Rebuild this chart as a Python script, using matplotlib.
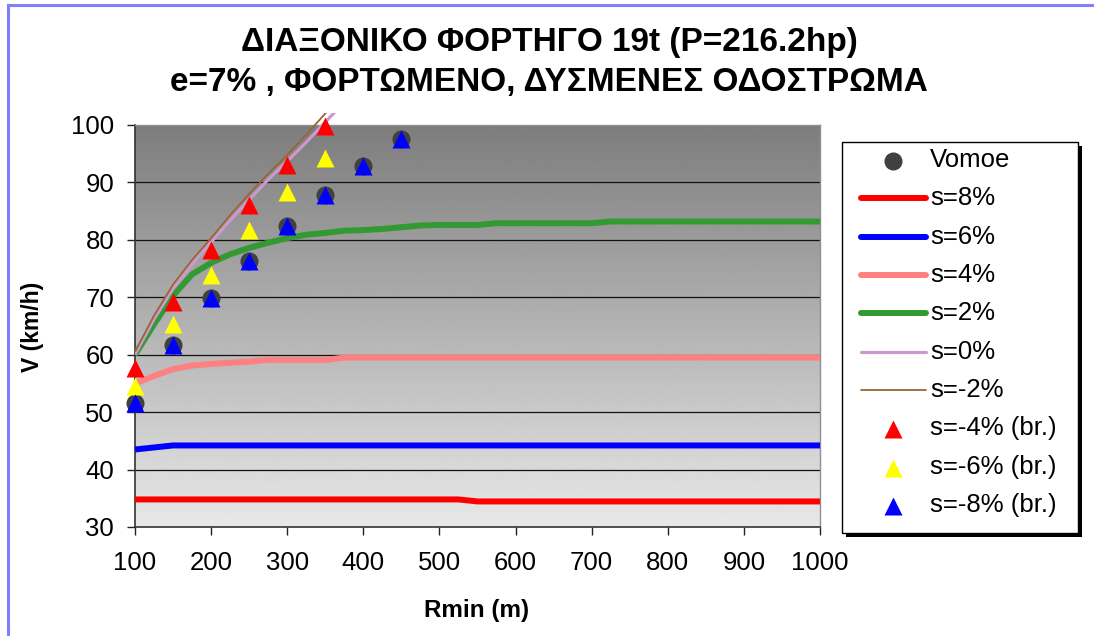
import numpy as np
import matplotlib
matplotlib.use("Agg")
import matplotlib.pyplot as plt
from matplotlib.lines import Line2D
from matplotlib.patches import Rectangle

plt.rcParams['font.family'] = ['Liberation Sans', 'DejaVu Sans']

# ---------------- data ----------------
R_lines = list(range(100, 1001, 25))
s8 = [34.8] * 18 + [34.45] * 19
s6 = [43.5, 43.85] + [44.2] * 35
s4 = [55.0, 56.3, 57.5, 58.1, 58.4, 58.6, 58.8, 59.1, 59.1, 59.1, 59.1] + [59.5] * 26
s2 = ([60.0, 65.3, 70.3, 74.0, 76.0, 77.5, 78.6, 79.5, 80.3, 80.9, 81.2, 81.6, 81.7,
       81.9, 82.2, 82.5, 82.6, 82.6, 82.6] + [82.9] * 6 + [83.2] * 12)

R_steep = [100, 125, 150, 175, 200, 225, 250, 275, 300, 325, 350, 375]
s0 = [60.0, 66.2, 71.5, 75.8, 79.6, 83.4, 87.0, 90.5, 93.7, 97.0, 100.5, 104.0]
sm2 = [60.5, 66.8, 72.2, 76.5, 80.3, 84.3, 88.0, 91.5, 94.8, 98.3, 102.0, 105.5]

R_pts = [100, 150, 200, 250, 300, 350, 400, 450]
vomoe = [51.6, 61.7, 69.9, 76.3, 82.4, 87.8, 92.9, 97.6]
sm8 = [51.6, 61.7, 69.9, 76.3, 82.4, 87.8, 92.9, 97.6]
R_br = [100, 150, 200, 250, 300, 350]
sm4 = [57.7, 69.2, 78.2, 86.1, 93.0, 99.8]
sm6 = [54.6, 65.3, 73.9, 81.7, 88.3, 94.3]

x_ticks = list(range(100, 1001, 100))
y_ticks = list(range(30, 101, 10))

title_1 = "ΔΙΑΞΟΝΙΚΟ ΦΟΡΤΗΓΟ 19t (P=216.2hp)"
title_2 = "e=7% , ΦΟΡΤΩΜΕΝΟ, ΔΥΣΜΕΝΕΣ ΟΔΟΣΤΡΩΜΑ"
xlabel = "Rmin (m)"
ylabel = "V (km/h)"
labels = ["Vomoe", "s=8%", "s=6%", "s=4%", "s=2%", "s=0%", "s=-2%",
          "s=-4% (br.)", "s=-6% (br.)", "s=-8% (br.)"]

# styles
line_styles = [('#ff0000', 4.3), ('#0000ff', 4.3), ('#ff8080', 4.3),
               ('#339933', 4.3), ('#cc99cc', 2.3), ('#996633', 1.3)]
CIRC = dict(marker='o', color='#404040', ms=13, mec='none')
TRI_R = dict(marker='^', color='#ff0000', ms=12.5, mec='none')
TRI_Y = dict(marker='^', color='#ffff00', ms=12.5, mec='none')
TRI_B = dict(marker='^', color='#0000ff', ms=12.5, mec='none')

# ---------------- figure ----------------
W, H = 1094, 636
fig = plt.figure(figsize=(W / 100, H / 100), dpi=100)
fig.patch.set_facecolor('white')

def fx(px):
    return px / W

def fy(py):
    return 1 - py / H

L, Rr, T, B = 135, 820, 125, 527
ax = fig.add_axes([fx(L), fy(B), (Rr - L) / W, (B - T) / H])
ax.set_xlim(100, 1000)
ax.set_ylim(30, 100)

grad = np.linspace(0.49, 0.91, 256).reshape(-1, 1)
ax.imshow(grad, cmap='gray', vmin=0, vmax=1, aspect='auto',
          extent=[0, 1, 0, 1], transform=ax.transAxes, origin='upper', zorder=0)

for y in y_ticks[1:-1]:
    ax.axhline(y, color='#111111', lw=0.9, zorder=1)

series = [(R_lines, s8), (R_lines, s6), (R_lines, s4), (R_lines, s2),
          (R_steep, s0), (R_steep, sm2)]
for (xs, ys), (c, lw) in zip(series, line_styles):
    ln, = ax.plot(xs, ys, color=c, lw=lw, solid_capstyle='butt', zorder=3)
    ln.set_clip_path(Rectangle((0, 0), 1, 1.03, transform=ax.transAxes))

ax.plot(R_pts, vomoe, ls='none', zorder=4, clip_on=False, **CIRC)
ax.plot(R_br, sm4, ls='none', zorder=5, clip_on=False, **TRI_R)
ax.plot(R_br, sm6, ls='none', zorder=5, clip_on=False, **TRI_Y)
ax.plot(R_pts, sm8, ls='none', zorder=5, clip_on=False, **TRI_B)

ax.set_xticks(x_ticks)
ax.set_yticks(y_ticks)
ax.tick_params(axis='both', labelsize=18.5, length=6, width=1, color='#222222')
ax.tick_params(axis='x', pad=11)
ax.tick_params(axis='y', pad=9)
for sp in ['left', 'bottom']:
    ax.spines[sp].set_color('#333333')
    ax.spines[sp].set_linewidth(1.2)
for sp in ['top', 'right']:
    ax.spines[sp].set_color('#909090')
    ax.spines[sp].set_linewidth(1.0)

fig.text(fx(33), fy(327), ylabel, rotation=90, fontsize=16.5, fontweight='bold',
         ha='center', va='center')
fig.text(fx(477), fy(610), xlabel, fontsize=17.5, fontweight='bold',
         ha='center', va='center')

fig.text(fx(549), fy(43), title_1, fontsize=24, fontweight='bold', ha='center', va='center')
fig.text(fx(549), fy(83), title_2, fontsize=24, fontweight='bold', ha='center', va='center')

# ---------------- legend (drawn manually) ----------------
lx0, ly0, lx1, ly1 = 842, 142, 1078, 533
fig.add_artist(Rectangle((fx(lx0 + 4), fy(ly1 + 4)), (lx1 - lx0) / W, (ly1 - ly0) / H,
                         transform=fig.transFigure, facecolor='black', edgecolor='none',
                         zorder=10))
fig.add_artist(Rectangle((fx(lx0), fy(ly1)), (lx1 - lx0) / W, (ly1 - ly0) / H,
                         transform=fig.transFigure, facecolor='white', edgecolor='black',
                         lw=1.0, zorder=11))
handles = ([('m', CIRC)] + [('l', s) for s in line_styles] +
           [('m', TRI_R), ('m', TRI_Y), ('m', TRI_B)])
row0, dy = 160, 38.35
for i, ((kind, st), lab) in enumerate(zip(handles, labels)):
    yy = row0 + i * dy
    if kind == 'l':
        c, lw = st
        fig.add_artist(Line2D([fx(861), fx(926)], [fy(yy), fy(yy)], color=c, lw=lw,
                              solid_capstyle='round', transform=fig.transFigure, zorder=12))
    else:
        fig.add_artist(Line2D([fx(893)], [fy(yy + 1)], ls='none', transform=fig.transFigure,
                              zorder=12, **st))
    fig.text(fx(930), fy(yy), lab, fontsize=18.5, ha='left', va='center', zorder=13)

# blue outer border (top and left)
fig.add_artist(Line2D([fx(8), fx(8)], [0, fy(5)], color='#8080ff', lw=2.2,
                      transform=fig.transFigure))
fig.add_artist(Line2D([fx(8), 1], [fy(5), fy(5)], color='#8080ff', lw=2.2,
                      transform=fig.transFigure))

fig.savefig('out.png', dpi=100)
